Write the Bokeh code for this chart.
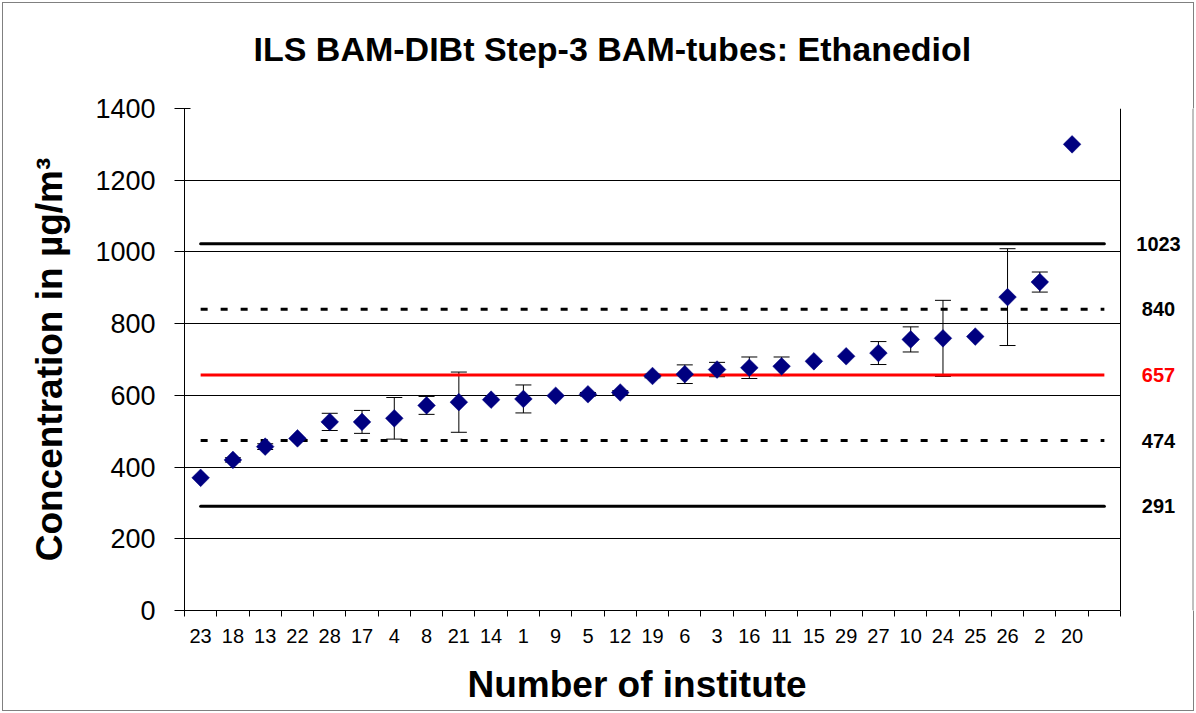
from bokeh.plotting import figure
from bokeh.models import (ColumnDataSource, Range1d, FixedTicker, SingleIntervalTicker,
                          CustomJSTickFormatter, Whisker, TeeHead, Title, BoxAnnotation, Span)
from bokeh.core.properties import value
from bokeh.embed import file_html
from bokeh.resources import INLINE
import math

# ---------------- data ----------------
institutes = ["23", "18", "13", "22", "28", "17", "4", "8", "21", "14", "1", "9", "5", "12",
              "19", "6", "3", "16", "11", "15", "29", "27", "10", "24", "25", "26", "2", "20"]
concentration = [370, 420, 457, 480, 526, 526, 536, 572, 581, 588, 590, 599, 603, 608,
                 654, 659, 672, 677, 681, 695, 709, 718, 756, 759, 764, 874, 916, 1300]
uncertainty = [0, 6, 8, 0, 24, 32, 58, 25, 84, 0, 39, 0, 5, 5,
               5, 26, 20, 30, 26, 0, 0, 32, 35, 106, 0, 135, 28, 0]

limit_outer = [291, 1023]      # solid black
limit_inner = [474, 840]       # dotted black
assigned_value = [657]         # red

title_text = "ILS BAM-DIBt Step-3 BAM-tubes: Ethanediol"
x_title = "Number of institute"
y_title = "Concentration in µg/m³"

FONT = "Liberation Sans"

n = len(institutes)
n_slots = n + 1                       # one empty slot after the last institute
xpos = [i + 0.5 for i in range(n)]

# layout: plot area 936 px wide for the slots, value labels in a 76 px strip to its right
SLOT_PX = 936 / n_slots
x_end = n_slots + 76 / SLOT_PX
label_x = n_slots + 38 / SLOT_PX

p = figure(width=1196, height=713, output_backend="svg", toolbar_location=None, title=None,
           x_range=Range1d(0, x_end), y_range=Range1d(0, 1400),
           min_border_left=184, min_border_right=0, min_border_top=108, min_border_bottom=103)
p.background_fill_color = "white"
p.border_fill_color = "white"
p.border_fill_alpha = 0.0
p.outline_line_color = None
p.styles = {"outline": "1px solid #808080", "outline-offset": "-3px", "background": "white"}

# ---------------- title (spacer + main title) ----------------
p.add_layout(Title(text=" ", text_font_size="10px", standoff=23), "above")
p.add_layout(Title(text=title_text, align="left", offset=69, text_font=FONT,
                   text_font_size="34px", text_font_style="bold", text_color="black"), "above")

# ---------------- axes ----------------
yt = SingleIntervalTicker(interval=200, num_minor_ticks=0)
p.yaxis.ticker = yt
p.ygrid.ticker = yt
p.ygrid.grid_line_color = "black"
p.ygrid.grid_line_width = 1
p.xgrid.visible = False
p.yaxis.axis_line_color = "black"
p.yaxis.major_tick_line_color = "black"
p.yaxis.major_tick_out = 10
p.yaxis.major_tick_in = 6
p.yaxis.minor_tick_line_color = None
p.yaxis.major_label_standoff = 19
p.yaxis.major_label_text_font = FONT
p.yaxis.major_label_text_font_size = "27px"
p.yaxis.major_label_text_color = "black"
p.yaxis.axis_label = y_title
p.yaxis.axis_label_text_font = FONT
p.yaxis.axis_label_text_font_size = "37px"
p.yaxis.axis_label_text_font_style = "bold"
p.yaxis.axis_label_text_color = "black"
p.yaxis.axis_label_standoff = 22

p.xaxis.bounds = (0, n_slots)
p.xaxis.ticker = FixedTicker(ticks=xpos, minor_ticks=list(range(n_slots + 1)))
p.xaxis.formatter = CustomJSTickFormatter(
    args=dict(labels=institutes),
    code="const i = Math.floor(tick); return (i >= 0 && i < labels.length) ? labels[i] : '';")
p.xaxis.axis_line_color = "black"
p.xaxis.major_tick_line_color = None
p.xaxis.major_tick_out = 6
p.xaxis.major_tick_in = 0
p.xaxis.minor_tick_line_color = "black"
p.xaxis.minor_tick_out = 6
p.xaxis.minor_tick_in = 0
p.xaxis.major_label_standoff = 12
p.xaxis.major_label_text_font = FONT
p.xaxis.major_label_text_font_size = "20px"
p.xaxis.major_label_text_color = "black"

# x-axis title: centred under the slot area (not the label strip)
p.add_layout(Title(text=" ", text_font_size="5px", standoff=10), "below")
p.add_layout(Title(text=x_title, align="left", offset=283, vertical_align="top", standoff=0,
                   text_font=FONT, text_font_size="37px", text_font_style="bold",
                   text_color="black"), "below")

# keep the grid inside the plot area; label strip stays white
p.add_layout(BoxAnnotation(left=n_slots, fill_color="white", fill_alpha=1.0,
                           line_color=None, level="underlay"))
p.add_layout(Span(location=n_slots, dimension="height", line_color="black", line_width=1))
# chart border on the right, inside the label strip
p.add_layout(Span(location=x_end - 3.5 / SLOT_PX, dimension="height",
                  line_color="#808080", line_width=1))

# ---------------- reference lines ----------------
x_span = [xpos[0], n + 0.5]
for v in limit_outer:
    p.line(x=x_span, y=[v, v], line_color="black", line_width=3, line_cap="round")
for v in limit_inner:
    p.line(x=x_span, y=[v, v], line_color="black", line_width=3, line_dash="7 13")
for v in assigned_value:
    p.line(x=x_span, y=[v, v], line_color="#FF0000", line_width=3)

# ---------------- error bars + points ----------------
eb = [(x, c, u) for x, c, u in zip(xpos, concentration, uncertainty) if u > 0]
src_err = ColumnDataSource(data=dict(
    x=[e[0] for e in eb],
    lower=[e[1] - e[2] for e in eb],
    upper=[e[1] + e[2] for e in eb]))
w = Whisker(base="x", lower="lower", upper="upper", source=src_err,
            line_color="black", line_width=1,
            upper_head=TeeHead(size=16, line_color="black", line_width=1),
            lower_head=TeeHead(size=16, line_color="black", line_width=1))
p.add_layout(w)

src = ColumnDataSource(data=dict(x=xpos, y=concentration, inst=institutes))
p.scatter(x="x", y="y", source=src, marker="square", angle=math.pi / 4, size=12.5,
          fill_color="#000080", line_color="#000080", line_width=0.5)

# ---------------- right-hand value labels ----------------
ref_vals = limit_outer + limit_inner + assigned_value
lab_src = ColumnDataSource(data=dict(
    x=[label_x] * len(ref_vals),
    y=ref_vals,
    text=[str(v) for v in ref_vals],
    color=["#FF0000" if v in assigned_value else "black" for v in ref_vals]))
p.text(x="x", y="y", text="text", source=lab_src, text_color="color",
       text_font=value(FONT), text_font_size="20px", text_font_style="bold",
       text_align="center", text_baseline="middle")

open("out.html", "w").write(file_html(p, INLINE))
